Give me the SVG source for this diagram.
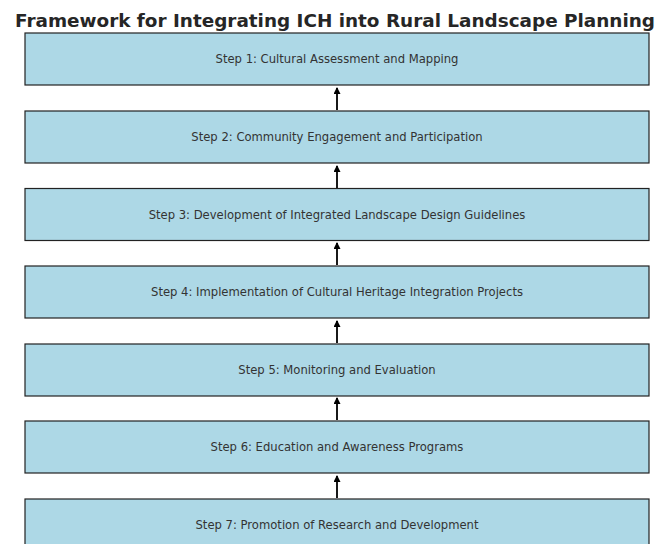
<svg xmlns="http://www.w3.org/2000/svg" width="662" height="544" viewBox="0 0 662 544">
<style>
.box{fill:#ADD8E6;stroke:#222;stroke-width:1.2}
.lbl{font-family:"DejaVu Sans",sans-serif;font-size:11.6px;fill:#333;text-anchor:middle;dominant-baseline:central}
.title{font-family:"DejaVu Sans",sans-serif;font-size:18.4px;font-weight:bold;fill:#262626;text-anchor:middle}
.arr{stroke:#000;stroke-width:1.8;fill:none;marker-end:url(#ah)}
</style>
<defs>
<marker id="ah" markerWidth="8" markerHeight="8" refX="6" refY="3.5" orient="auto" markerUnits="userSpaceOnUse">
<path d="M0,0 L7,3.5 L0,7 Z" fill="#000"/>
</marker>
</defs>
<rect width="662" height="544" fill="#fff"/>
<text class="title" x="335" y="27">Framework for Integrating ICH into Rural Landscape Planning</text>
<g id="connectors">
<line class="arr" x1="337" y1="110" x2="337" y2="88"/>
<line class="arr" x1="337" y1="188" x2="337" y2="166"/>
<line class="arr" x1="337" y1="265" x2="337" y2="243"/>
<line class="arr" x1="337" y1="343" x2="337" y2="321"/>
<line class="arr" x1="337" y1="420" x2="337" y2="398"/>
<line class="arr" x1="337" y1="498" x2="337" y2="476"/>
</g>
<g id="step1"><rect class="box" x="25" y="33" width="624" height="52"/><text class="lbl" x="337" y="59">Step 1: Cultural Assessment and Mapping</text></g>
<g id="step2"><rect class="box" x="25" y="111" width="624" height="52"/><text class="lbl" x="337" y="137">Step 2: Community Engagement and Participation</text></g>
<g id="step3"><rect class="box" x="25" y="188.5" width="624" height="52"/><text class="lbl" x="337" y="214.5">Step 3: Development of Integrated Landscape Design Guidelines</text></g>
<g id="step4"><rect class="box" x="25" y="266" width="624" height="52"/><text class="lbl" x="337" y="292">Step 4: Implementation of Cultural Heritage Integration Projects</text></g>
<g id="step5"><rect class="box" x="25" y="344" width="624" height="52"/><text class="lbl" x="337" y="370">Step 5: Monitoring and Evaluation</text></g>
<g id="step6"><rect class="box" x="25" y="421" width="624" height="52"/><text class="lbl" x="337" y="447">Step 6: Education and Awareness Programs</text></g>
<g id="step7"><rect class="box" x="25" y="499" width="624" height="52"/><text class="lbl" x="337" y="525">Step 7: Promotion of Research and Development</text></g>
</svg>
